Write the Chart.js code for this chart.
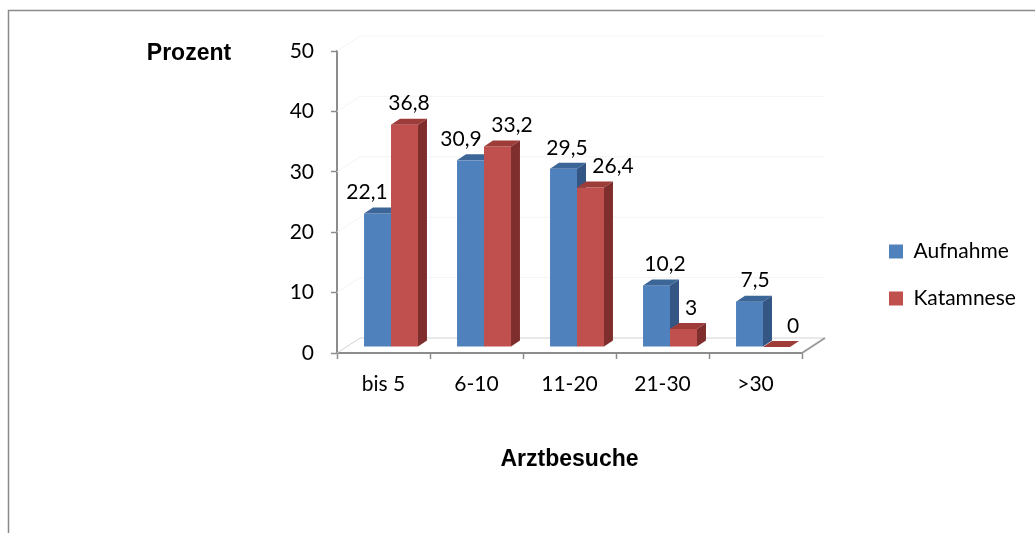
<!DOCTYPE html>
<html lang="de">
<head>
<meta charset="utf-8">
<title>Arztbesuche – Aufnahme und Katamnese</title>
<script src="https://cdn.jsdelivr.net/npm/chart.js@4/dist/chart.umd.min.js"></script>
<style>
  html, body { margin: 0; padding: 0; background: #ffffff; }
  #wrap { width: 1035px; height: 533px; position: relative; }
</style>
</head>
<body>
<div id="wrap"><canvas id="chart" width="1035" height="533"></canvas></div>
<script>
// Anzahl der Arztbesuche, Anteil in Prozent
const categories = ['bis 5', '6-10', '11-20', '21-30', '>30'];
const aufnahme   = [22.1, 30.9, 29.5, 10.2, 7.5];
const katamnese  = [36.8, 33.2, 26.4, 3, 0];
const seriesNames = ['Aufnahme', 'Katamnese'];
const yTicks = [0, 10, 20, 30, 40, 50];

const FONT_BODY = 'Lato, "Open Sans", "DejaVu Sans", sans-serif';
const FONT_BOLD = '"Liberation Sans", Arial, sans-serif';

// Faces of the pseudo-3D columns
const faces = [
  { front: '#4F81BD', top: '#3D6698', side: '#345684' },
  { front: '#C0504D', top: '#9E3C39', side: '#7E2F2D' }
];

const fmt = v => String(v).replace('.', ',');

// Draws the frame, floor, walls, the 3D columns and their value labels
const threeD = {
  id: 'threeD',
  beforeDraw(chart) {
    const ctx = chart.ctx;
    ctx.save();
    ctx.fillStyle = '#ffffff';
    ctx.fillRect(0, 0, chart.width, chart.height);
    ctx.strokeStyle = '#8a8a8a';
    ctx.lineWidth = 1.5;
    ctx.strokeRect(8.5, 10.5, 1200, 900);
    ctx.restore();
  },
  afterLayout(chart, args, opts) {
    const lg = chart.legend;
    if (!lg) return;
    const w = lg.width, h = lg.height;
    lg.left = opts.legendAt.x; lg.top = opts.legendAt.y;
    lg.right = lg.left + w; lg.bottom = lg.top + h;
  },
  beforeDatasetsDraw(chart, args, opts) {
    const { ctx, chartArea: a } = chart;
    const y = chart.scales.y;
    const d = opts.floor;
    ctx.save();
    // back wall and side wall gridlines
    ctx.lineWidth = 1;
    yTicks.forEach(v => {
      if (v === 0) return;
      const py = y.getPixelForValue(v);
      ctx.strokeStyle = '#f4f4f4';
      ctx.beginPath();
      ctx.moveTo(a.left + d.dx, py + d.dy);
      ctx.lineTo(a.right + d.dx, py + d.dy);
      ctx.stroke();
      ctx.beginPath();
      ctx.moveTo(a.left, py);
      ctx.lineTo(a.left + d.dx, py + d.dy);
      ctx.stroke();
    });
    // floor: back edge, left edge and right edge
    const y0 = y.getPixelForValue(0);
    ctx.strokeStyle = '#d2d2d2';
    ctx.beginPath();
    ctx.moveTo(a.left, y0);
    ctx.lineTo(a.left + d.dx, y0 + d.dy);
    ctx.lineTo(a.right + d.dx, y0 + d.dy);
    ctx.stroke();
    ctx.strokeStyle = '#9a9a9a';
    ctx.lineWidth = 2;
    ctx.beginPath();
    ctx.moveTo(a.right, y0);
    ctx.lineTo(a.right + d.dx, y0 + d.dy);
    ctx.stroke();
    // axis caption on top of the value axis
    ctx.fillStyle = '#000000';
    ctx.font = 'bold 23px ' + FONT_BOLD;
    ctx.textAlign = 'center';
    ctx.textBaseline = 'middle';
    ctx.fillText('Prozent', opts.caption.x, opts.caption.y);
    ctx.restore();
  },
  beforeDatasetDraw() {
    return false; // columns are drawn as 3D blocks below
  },
  afterDatasetsDraw(chart, args, opts) {
    const ctx = chart.ctx;
    const s = opts.shift, b = opts.bar;
    const metas = chart.data.datasets.map((ds, i) => chart.getDatasetMeta(i));
    ctx.save();
    categories.forEach((c, ci) => {
      metas.forEach((meta, di) => {
        const el = meta.data[ci];
        const f = faces[di];
        const x0 = el.x - el.width / 2 + s.dx;
        const x1 = x0 + el.width;
        const yt = el.y + s.dy;
        const yb = el.base + s.dy;
        // front
        ctx.fillStyle = f.front;
        ctx.fillRect(x0, yt, x1 - x0, yb - yt);
        // top
        ctx.fillStyle = f.top;
        ctx.beginPath();
        ctx.moveTo(x0, yt);
        ctx.lineTo(x1, yt);
        ctx.lineTo(x1 + b.dx, yt + b.dy);
        ctx.lineTo(x0 + b.dx, yt + b.dy);
        ctx.closePath();
        ctx.fill();
        // right side
        ctx.fillStyle = f.side;
        ctx.beginPath();
        ctx.moveTo(x1, yt);
        ctx.lineTo(x1 + b.dx, yt + b.dy);
        ctx.lineTo(x1 + b.dx, yb + b.dy);
        ctx.lineTo(x1, yb);
        ctx.closePath();
        ctx.fill();
      });
    });
    // value labels
    ctx.fillStyle = '#000000';
    ctx.font = '21px ' + FONT_BODY;
    ctx.textAlign = 'center';
    ctx.textBaseline = 'middle';
    metas.forEach((meta, di) => {
      const values = chart.data.datasets[di].data;
      meta.data.forEach((el, ci) => {
        const cx = el.x + s.dx + b.dx / 2 + opts.labelNudge[di][ci];
        const cy = el.y + s.dy - 21;
        ctx.fillText(fmt(values[ci]), cx, cy);
      });
    });
    ctx.restore();
  }
};

new Chart(document.getElementById('chart'), {
  type: 'bar',
  data: {
    labels: categories,
    datasets: [
      { label: seriesNames[0], data: aufnahme, backgroundColor: faces[0].front, borderWidth: 0 },
      { label: seriesNames[1], data: katamnese, backgroundColor: faces[1].front, borderWidth: 0 }
    ]
  },
  options: {
    responsive: false,
    animation: false,
    events: [],
    layout: { padding: { left: 0, top: 51, right: 233, bottom: 0 } },
    datasets: { bar: { categoryPercentage: 0.58, barPercentage: 1 } },
    scales: {
      x: {
        type: 'category',
        afterFit(scale) { scale.height = 180; },
        grid: { display: true, drawOnChartArea: false, drawTicks: true, tickLength: 6, tickColor: '#8c8c8c', tickWidth: 1.5, offset: true },
        border: { display: true, color: '#8c8c8c', width: 2 },
        ticks: { color: '#000000', font: { family: FONT_BODY, size: 21 }, padding: 13, maxRotation: 0, autoSkip: false },
        title: { display: true, text: 'Arztbesuche', color: '#000000', font: { family: FONT_BOLD, size: 23, weight: 'bold' }, padding: { top: 0, bottom: 60 } }
      },
      y: {
        min: yTicks[0],
        max: yTicks[yTicks.length - 1],
        afterFit(scale) { scale.width = 337; },
        afterBuildTicks(scale) { scale.ticks = yTicks.map(v => ({ value: v })); },
        grid: { display: true, drawOnChartArea: false, drawTicks: true, tickLength: 6, tickColor: '#8c8c8c', tickWidth: 1.5 },
        border: { display: true, color: '#8c8c8c', width: 2 },
        ticks: { color: '#000000', font: { family: FONT_BODY, size: 21 }, padding: 17 }
      }
    },
    plugins: {
      tooltip: { enabled: false },
      legend: {
        position: 'chartArea',
        align: 'start',
        labels: { color: '#000000', font: { family: FONT_BODY, size: 21 }, boxWidth: 14, boxHeight: 14, padding: 26 }
      },
      threeD: {
        floor: { dx: 23, dy: -15 },
        shift: { dx: 7.5, dy: -6 },
        bar: { dx: 9, dy: -6 },
        caption: { x: 189, y: 54 },
        legendAt: { x: 863, y: 215 },
        labelNudge: [[-15, -14, -1, 4, 1], [0, 10, 18, 3, 12]]
      }
    }
  },
  plugins: [threeD]
});
</script>
</body>
</html>
